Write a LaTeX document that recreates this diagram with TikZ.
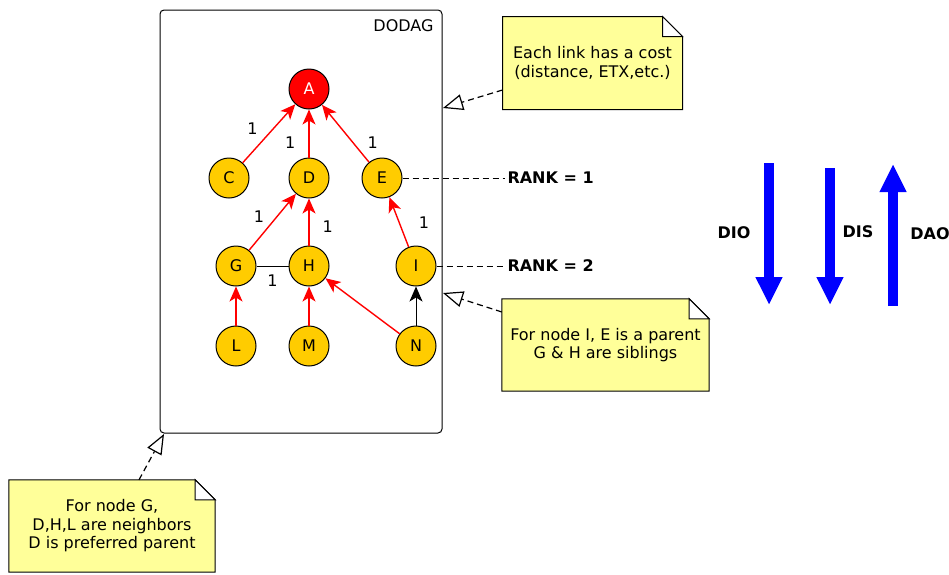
\documentclass[tikz,border=0pt]{standalone}
\usepackage{fontspec}
\setmainfont{DejaVu Sans}
\usetikzlibrary{arrows.meta,backgrounds}

\definecolor{rplgold}{HTML}{FFCC00}
\definecolor{memoyellow}{HTML}{FFFF99}

\tikzset{
  memo/.style={align=center, inner sep=0pt, font=\fontsize{16}{18.5}\selectfont},
  hint/.style={line width=1.2pt, dash pattern=on 6pt off 4pt, -{Triangle[length=20pt,width=16pt,fill=white]}},
  ranked/.style={dash pattern=on 6pt off 4pt},
  rank/.style={anchor=west, inner sep=2pt, font=\bfseries\fontsize{16}{18}\selectfont},
  msg/.style={blue, line width=10pt, -{Triangle[length=28pt,width=25pt]}},
  msgname/.style={inner sep=0pt, font=\bfseries\fontsize{16}{18}\selectfont},
  cost/.style={inner sep=1pt, text=black, font=\fontsize{16}{18}\selectfont},
}

% folded-corner outline behind a note
\newcommand\memoframe[1]{%
  \begin{pgfonlayer}{background}
    \draw[line width=1pt, fill=memoyellow]
      (#1.south west) -- (#1.north west) -- ([xshift=-20pt]#1.north east)
      -- ([yshift=-20pt]#1.north east) -- (#1.south east) -- cycle;
    \draw[line width=1pt, fill=white]
      ([xshift=-20pt]#1.north east) -- ([xshift=-20pt,yshift=-20pt]#1.north east)
      -- ([yshift=-20pt]#1.north east) -- cycle;
  \end{pgfonlayer}}

\begin{document}
\begin{tikzpicture}[x=1pt, y=-1pt, line width=1pt, font=\fontsize{16}{18}\selectfont]
  \useasboundingbox (0,0) rectangle (949,574);

  \node[draw, rounded corners=4pt, minimum width=282pt, minimum height=423pt] (dodag) at (301,221.5) {};
  \node[anchor=east, inner sep=0pt] (dodag title) at (434,26) {DODAG};

  \begin{scope}[every node/.style={circle, draw, fill=rplgold, minimum size=40pt, inner sep=0pt}]
    \node[fill=red, text=white] (A) at (309,89) {A};
    \node (C) at (229,178) {C};
    \node (D) at (309,178) {D};
    \node (E) at (382,178) {E};
    \node (G) at (236,266) {G};
    \node (H) at (309,266) {H};
    \node (I) at (416,266) {I};
    \node (L) at (236,346) {L};
    \node (M) at (309,346) {M};
    \node (N) at (416,346) {N};
  \end{scope}

  \begin{scope}[every node/.style={cost}]
    \begin{scope}[every edge/.style={draw=red, line width=1.4pt, -{Stealth[length=15pt,width=13pt,inset=4pt]}}]
      \path (C) edge node[pos=.58, left=14pt] {1} (A);
      \path (D) edge node[pos=.3, left=12pt] {1} (A);
      \path (E) edge node[pos=.34, right=13pt] {1} (A);
      \path (G) edge node[pos=.59, left=11pt] {1} (D);
      \path (H) edge node[pos=.4, right=12pt] {1} (D);
      \path (I) edge node[pos=.49, right=18pt] {1} (E);
      \path (L) edge (G);
      \path (M) edge (H);
      \path (N) edge (H);
      \path (N) edge[draw=black, line width=1pt] (I);
      \path (G) edge[draw=black, line width=1pt, -] node[below=7pt] {1} (H);
    \end{scope}
  \end{scope}

  \node[rank] (rank one) at (505,178) {RANK = 1};
  \node[rank] (rank two) at (505,266) {RANK = 2};
  \draw[ranked] (E) -- (rank one);
  \draw[ranked] (I) -- (rank two);

  \node[memo, minimum width=179pt, minimum height=92pt] (cost memo) at (592.5,63)
    {Each link has a cost\\(distance, ETX,etc.)};
  \memoframe{cost memo}
  \coordinate (cost tip) at (443,108);
  \draw[hint] ([yshift=-27pt]cost memo.west) -- (cost tip);

  \node[memo, minimum width=207pt, minimum height=92pt] (parent memo) at (605.5,345)
    {For node I, E is a parent\\G \& H are siblings};
  \memoframe{parent memo}
  \coordinate (parent tip) at (443,293);
  \draw[hint] ([yshift=33pt]parent memo.west) -- (parent tip);

  \node[memo, minimum width=206pt, minimum height=92pt] (neighbour memo) at (112,526)
    {For node G,\\D,H,L are neighbors\\D is preferred parent};
  \memoframe{neighbour memo}
  \coordinate (neighbour tip) at (164,434);
  \draw[hint] ([xshift=27pt]neighbour memo.north) -- (neighbour tip);

  % control messages
  \coordinate (dio top) at (769,163);
  \coordinate (dio end) at (769,305);
  \coordinate (dis top) at (830,168);
  \coordinate (dis end) at (830,305);
  \coordinate (dao bottom) at (893,306);
  \coordinate (dao end) at (893,164);
  \draw[msg] (dio top) -- (dio end);
  \draw[msg] (dis top) -- (dis end);
  \draw[msg] (dao bottom) -- (dao end);
  \node[msgname] (dio) at (734,233) {DIO};
  \node[msgname] (dis) at (858,232) {DIS};
  \node[msgname] (dao) at (930,234) {DAO};
\end{tikzpicture}
\end{document}
